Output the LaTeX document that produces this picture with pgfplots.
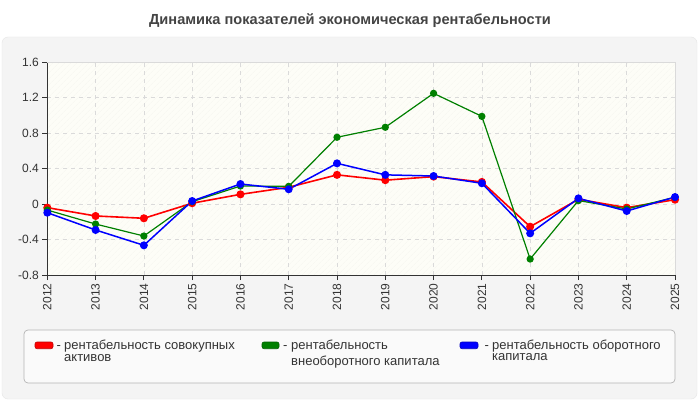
\documentclass[border=0pt]{standalone}
\usepackage{pgfplots}
\pgfplotsset{compat=1.18}
\usetikzlibrary{patterns.meta}
\usepackage{fontspec}
\setmainfont{Liberation Sans}
\definecolor{panel}{HTML}{F4F4F4}
\definecolor{panelborder}{HTML}{E6E6E6}
\definecolor{titlec}{HTML}{444444}
\definecolor{txt}{HTML}{333333}
\definecolor{plotbg}{HTML}{FDFDF7}
\definecolor{hatch}{HTML}{F6F6F0}
\definecolor{gridc}{HTML}{DADADA}
\definecolor{legbg}{HTML}{FAFAFA}
\definecolor{legborder}{HTML}{B4B4B4}
\definecolor{cred}{HTML}{FF0000}
\definecolor{cgreen}{HTML}{008000}
\definecolor{cblue}{HTML}{0000FF}

\pgfplotstableread{
year red green blue
2012 -0.04 -0.067 -0.097
2013 -0.134 -0.225 -0.292
2014 -0.16 -0.36 -0.465
2015 0.01 0.027 0.035
2016 0.11 0.204 0.227
2017 0.19 0.20 0.167
2018 0.33 0.754 0.46
2019 0.27 0.867 0.33
2020 0.31 1.25 0.317
2021 0.25 0.99 0.235
2022 -0.255 -0.62 -0.33
2023 0.054 0.04 0.065
2024 -0.04 -0.055 -0.078
2025 0.05 0.077 0.08
}\datatable

\begin{document}
\begin{tikzpicture}[x=1pt,y=1pt]
\useasboundingbox (0,0) rectangle (700,400);
\fill[white] (0,0) rectangle (700,400);
\filldraw[fill=panel, draw=panelborder, rounded corners=6pt] (2,1) rectangle (697,363);
\node[font=\bfseries\fontsize{14.6}{17}\selectfont, text=titlec] at (350,379.5) {Динамика показателей экономическая рентабельности};

\begin{axis}[
  at={(47.3pt,125pt)}, anchor=south west,
  width=627.7pt, height=212.7pt, scale only axis,
  xmin=2012, xmax=2025, ymin=-0.8, ymax=1.6,
  xtick={2012,2013,2014,2015,2016,2017,2018,2019,2020,2021,2022,2023,2024,2025},
  xticklabels={2012,2013,2014,2015,2016,2017,2018,2019,2020,2021,2022,2023,2024,2025},
  ytick={-0.8,-0.4,0,0.4,0.8,1.2,1.6},
  yticklabels={-0.8,-0.4,0,0.4,0.8,1.2,1.6},
  axis lines*=left,
  axis line style={draw=txt, line width=0.8pt, -},
  tick align=outside,
  major tick length=5pt,
  tick style={draw=txt, line width=0.8pt},
  tick label style={font=\fontsize{12}{14}\selectfont, text=txt},
  x tick label style={rotate=90, anchor=east},
  grid=major,
  grid style={draw=gridc, dash pattern=on 4pt off 4pt, line width=0.7pt},
  axis background/.style={preaction={fill=plotbg}, pattern={Lines[angle=45, distance=4pt, line width=0.5pt]}, pattern color=hatch},
  clip=false,
  /pgf/number format/assume math mode=true,
]
\draw[gridc, line width=0.8pt] (rel axis cs:0,1) -- (rel axis cs:1,1) -- (rel axis cs:1,0);
\addplot[cred, line width=1.6pt, mark=*, mark size=3.2pt, mark options={solid, fill=cred, draw=cred}] table[x=year, y=red] {\datatable};
\addplot[cgreen, line width=1.2pt, mark=*, mark size=3pt, mark options={solid, fill=cgreen, draw=cgreen}] table[x=year, y=green] {\datatable};
\addplot[cblue, line width=1.5pt, mark=*, mark size=3.2pt, mark options={solid, fill=cblue, draw=cblue}] table[x=year, y=blue] {\datatable};
\end{axis}

% legend
\filldraw[fill=legbg, draw=legborder, line width=0.7pt, rounded corners=4pt] (24,17) rectangle (675,70);
\tikzset{legtxt/.style={anchor=base west, inner sep=0pt, text=txt, font=\fontsize{13}{15}\selectfont}}
\filldraw[fill=cred, draw=cred!75!black, line width=0.6pt, rounded corners=2pt] (35,51.3) rectangle (53,58);
\node[legtxt] at (56.5,51) {-};
\node[legtxt] at (64,51) {рентабельность совокупных};
\node[legtxt] at (64,38.3) {активов};
\filldraw[fill=cgreen, draw=cgreen!75!black, line width=0.6pt, rounded corners=2pt] (262,51.3) rectangle (279,58);
\node[legtxt] at (283,51) {-};
\node[legtxt] at (291,51) {рентабельность};
\node[legtxt] at (291,35) {внеоборотного капитала};
\filldraw[fill=cblue, draw=cblue!75!black, line width=0.6pt, rounded corners=2pt] (460,51.3) rectangle (478,58);
\node[legtxt] at (484.5,51) {-};
\node[legtxt] at (492,51) {рентабельность оборотного};
\node[legtxt] at (492,39.3) {капитала};
\end{tikzpicture}
\end{document}
